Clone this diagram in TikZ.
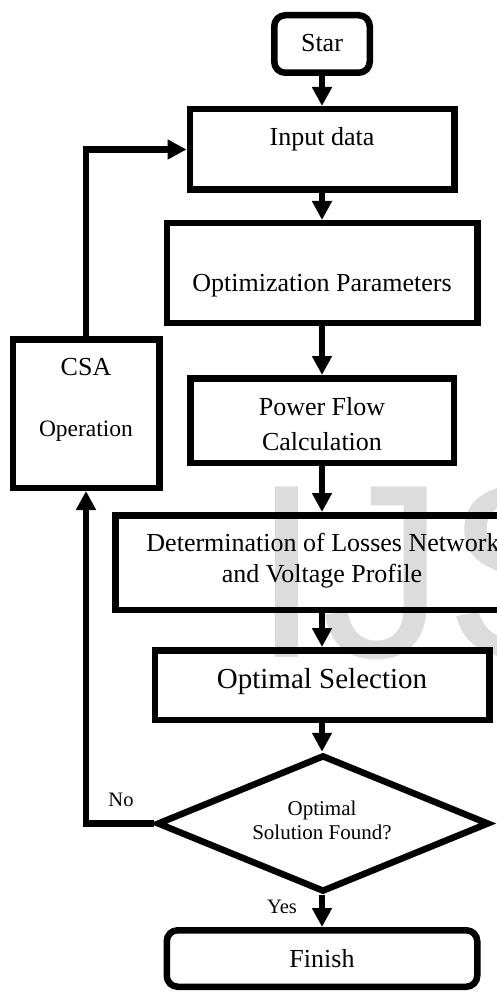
\documentclass[tikz,border=0pt]{standalone}
\usepackage{fontspec}
\setmainfont{Liberation Serif}
\newfontfamily\wmfont{Liberation Sans}
\usetikzlibrary{arrows.meta,shapes.geometric}
\definecolor{wmgray}{HTML}{DCDCDC}
\tikzset{
  box/.style={draw, rectangle, line width=6.5pt, inner sep=0pt},
  rbox/.style={box, rounded corners=11pt},
  decision/.style={draw, diamond, line width=6.5pt, inner sep=0pt},
  txt/.style={inner sep=0pt, anchor=base, font=\fontsize{26}{30}\selectfont},
  flow/.style={line width=6.5pt, -{Triangle[width=19pt,length=19pt]}},
  wmark/.style={inner sep=0pt, anchor=base west, text=wmgray, font=\wmfont\fontsize{248}{250}\selectfont}
}
\begin{document}
\begin{tikzpicture}[x=1pt,y=-1pt]
\useasboundingbox (0,0) rectangle (497,992);
% watermark
\node[wmark] (wm) at (252,657) {IJS};
% boxes
\node[rbox, minimum width=95.5pt, minimum height=57.5pt] (star) at (322,44) {};
\node[box, minimum width=264.5pt, minimum height=80.5pt] (input) at (322,149.5) {};
\node[box, minimum width=310.5pt, minimum height=99.5pt] (param) at (322,273) {};
\node[box, minimum width=146.5pt, minimum height=148.5pt] (csa) at (86,413.5) {};
\node[box, minimum width=263.5pt, minimum height=84.5pt] (flowcalc) at (322,420.5) {};
\node[box, minimum width=413.5pt, minimum height=94.5pt] (losses) at (322,562.5) {};
\node[box, minimum width=334.5pt, minimum height=69.5pt] (optsel) at (322,685) {};
\node[decision, minimum width=332pt, minimum height=137pt] (dec) at (323,823.5) {};
\node[rbox, minimum width=310.5pt, minimum height=56.5pt] (finish) at (322,958.5) {};
% texts
\node[txt] (tstar) at (322,52) {Star};
\node[txt] (tinput) at (322,146) {Input data};
\node[txt] (tparam) at (322,291) {Optimization Parameters};
\node[txt] (tcsa) at (86,375) {CSA};
\node[txt, font=\fontsize{23.5}{27}\selectfont] (toper) at (86,436) {Operation};
\node[txt] (tpf1) at (322,415) {Power Flow};
\node[txt] (tpf2) at (322,450) {Calculation};
\node[txt] (tlo1) at (323,551) {Determination of Losses Network};
\node[txt] (tlo2) at (322,582) {and Voltage Profile};
\node[txt, font=\fontsize{29}{33}\selectfont] (tsel) at (322,688) {Optimal Selection};
\node[txt, font=\fontsize{21}{24}\selectfont] (td1) at (322,815) {Optimal};
\node[txt, font=\fontsize{21}{24}\selectfont] (td2) at (322,839) {Solution Found?};
\node[txt, font=\fontsize{20.5}{24}\selectfont] (tno) at (121,806) {No};
\node[txt, font=\fontsize{20.5}{24}\selectfont] (tyes) at (282,913) {Yes};
\node[txt] (tfin) at (322,967) {Finish};
% connectors
\draw[flow] (star.south) -- (input.north);
\draw[flow] (input.south) -- (param.north);
\draw[flow] (param.south) -- (flowcalc.north);
\draw[flow] (flowcalc.south) -- (losses.north);
\draw[flow] (losses.south) -- (optsel.north);
\draw[flow] (optsel.south) -- (optsel.south |- dec.north);
\draw[flow] (finish.north |- dec.south) -- (finish.north);
\draw[flow] (dec.west) -- (dec.west -| csa.south) -- (csa.south);
\draw[flow] (csa.north) |- (input.west);
\end{tikzpicture}
\end{document}
